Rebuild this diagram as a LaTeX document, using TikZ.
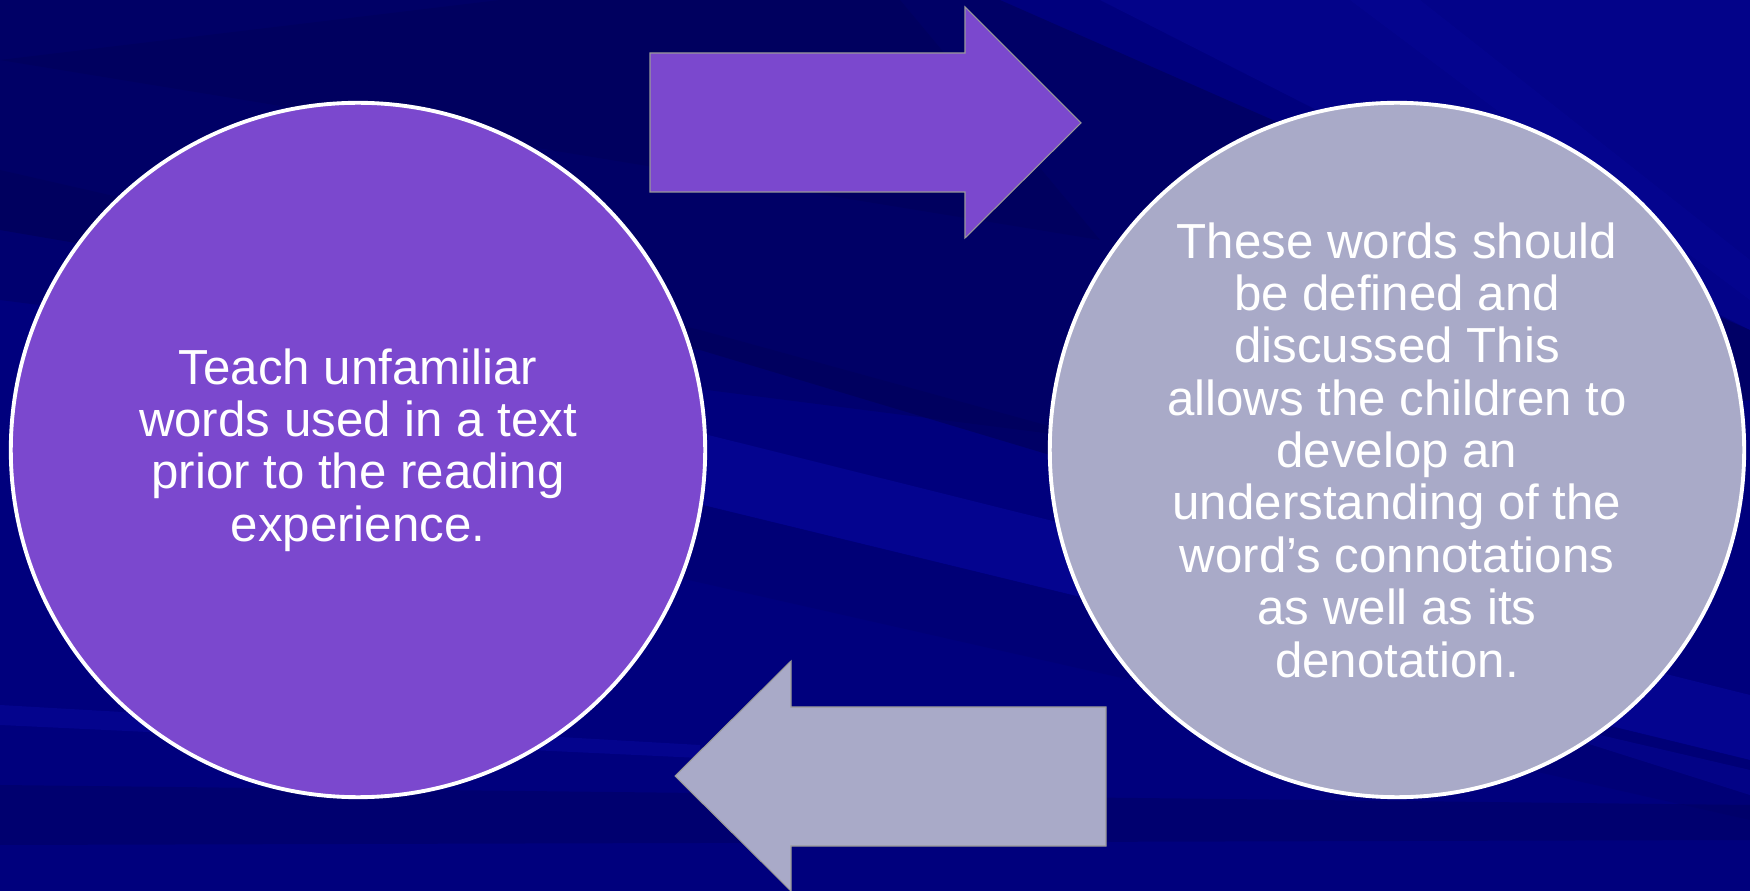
\documentclass[tikz,border=0pt]{standalone}
\usepackage{fontspec}
\setmainfont{Liberation Sans}

\definecolor{slidebg}{RGB}{0,0,125}
\definecolor{slidedark}{RGB}{0,0,80}
\definecolor{slidelight}{RGB}{10,10,165}
\definecolor{stepviolet}{RGB}{123,72,206}
\definecolor{steplilac}{RGB}{169,170,200}

\begin{document}
\begin{tikzpicture}[
  x=0.01cm,y=-0.01cm,
  bubble/.style={circle,draw=white,line width=1.1pt,minimum size=6.94cm,inner sep=0pt,
    text=white,align=center,font=\fontsize{14}{14.9}\selectfont},
  block/.style={draw=black!40,line width=0.3pt},
  darkstreak/.style={fill=slidedark,opacity=#1},
  lightstreak/.style={fill=slidelight,opacity=#1}
]
  % background and its streaks
  \fill[slidebg] (0,0) rectangle (1750,891);
  \fill[darkstreak=0.5] (0,0) -- (1000,0) -- (1750,330) -- (1750,400) -- (1100,470)
    -- (700,350) -- (0,230) -- cycle;
  \fill[darkstreak=0.3] (0,170) -- (700,330) -- (1100,440) -- (0,300) -- cycle;
  \fill[darkstreak=0.3] (0,60) -- (500,0) -- (900,0) -- (1100,240) -- cycle;
  \fill[lightstreak=0.3] (1100,0) -- (1750,0) -- (1750,330) -- cycle;
  \fill[lightstreak=0.2] (1350,0) -- (1420,0) -- (1750,260) -- (1750,300) -- cycle;
  \fill[lightstreak=0.45] (600,408) -- (1750,695) -- (1750,760) -- (600,480) -- cycle;
  \fill[darkstreak=0.15] (600,480) -- (1750,760) -- (1750,820) -- (600,560) -- cycle;
  \fill[lightstreak=0.4] (0,705) -- (700,745) -- (700,758) -- (0,725) -- cycle;
  \fill[darkstreak=0.3] (0,785) -- (1750,805) -- (1750,840) -- (0,845) -- cycle;
  \fill[lightstreak=0.35] (1450,700) -- (1750,770) -- (1750,795) -- cycle;
  \useasboundingbox (0,0) rectangle (1750,891);

  % the two steps
  \node[bubble,fill=stepviolet] (teach) at (358,450) {%
    Teach unfamiliar\\ words used in a text\\ prior to the reading\\ experience.};
  \node[bubble,fill=steplilac] (define) at (1397,450) {%
    These words should\\ be defined and\\ discussed This\\ allows the children to\\
    develop an\\ understanding of the\\ word’s connotations\\ as well as its\\ denotation.};

  % block arrows between them
  \fill[block,fill=stepviolet] (650,53) -- (965,53) -- (965,7) -- (1081,123)
    -- (965,238) -- (965,192) -- (650,192) -- cycle;
  \fill[block,fill=steplilac] (1106,707) -- (791,707) -- (791,661) -- (675,776)
    -- (791,891) -- (791,846) -- (1106,846) -- cycle;
\end{tikzpicture}
\end{document}
